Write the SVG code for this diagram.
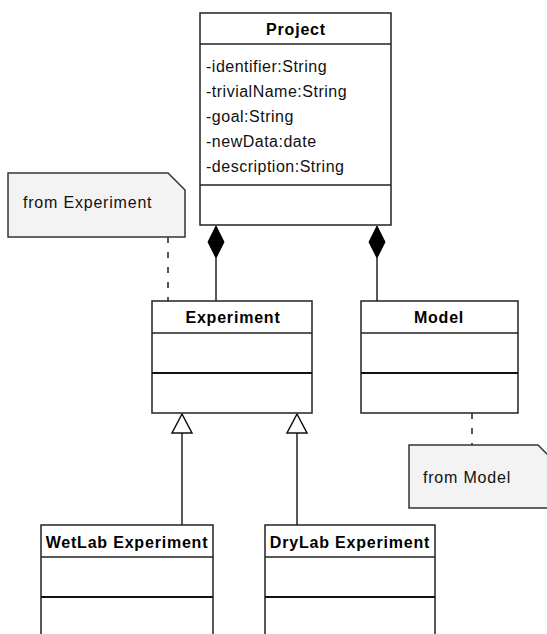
<svg xmlns="http://www.w3.org/2000/svg" width="547" height="634" viewBox="0 0 547 634">
  <style>
    .box { fill: #ffffff; stroke: #222222; stroke-width: 1.5; }
    .sep { stroke: #222222; stroke-width: 1.5; }
    .sep2 { stroke: #111111; stroke-width: 2.2; }
    .title { font-family: "Liberation Sans", Arial, sans-serif; font-size: 16px; font-weight: bold; letter-spacing: 0.8px; fill: #000; text-anchor: middle; }
    .attr { font-family: "Liberation Sans", Arial, sans-serif; font-size: 16px; letter-spacing: 0.5px; fill: #111; }
    .note { fill: #f3f3f3; stroke: #333333; stroke-width: 1.5; }
    .notetext { font-family: "Liberation Sans", Arial, sans-serif; font-size: 16px; letter-spacing: 0.8px; fill: #111; }
    .link { stroke: #222222; stroke-width: 1.5; fill: none; }
    .dash { stroke: #222222; stroke-width: 1.5; fill: none; stroke-dasharray: 6 9; }
    .diamond { fill: #000000; stroke: #000000; stroke-width: 1; }
    .tri { fill: #ffffff; stroke: #111111; stroke-width: 1.5; }
  </style>

  <!-- connectors -->
  <g id="connectors">
    <!-- composition: Project -> Experiment -->
    <line class="link" x1="216" y1="258" x2="216" y2="301"/>
    <polygon class="diamond" points="216,226 224,242 216,258 208,242"/>
    <!-- composition: Project -> Model -->
    <line class="link" x1="377" y1="258" x2="377" y2="301"/>
    <polygon class="diamond" points="377,226 385,242 377,258 369,242"/>
    <!-- generalization: WetLab -> Experiment -->
    <line class="link" x1="182" y1="433" x2="182" y2="525"/>
    <polygon class="tri" points="182,414 192,433 172,433"/>
    <!-- generalization: DryLab -> Experiment -->
    <line class="link" x1="297" y1="433" x2="297" y2="525"/>
    <polygon class="tri" points="297,414 307,433 287,433"/>
    <!-- note anchors -->
    <line class="dash" x1="168" y1="237" x2="168" y2="301"/>
    <line class="dash" x1="472" y1="413" x2="472" y2="445"/>
  </g>

  <!-- Project class -->
  <g id="project">
    <rect class="box" x="200" y="13" width="191" height="212"/>
    <line class="sep" x1="200" y1="44" x2="391" y2="44"/>
    <line class="sep" x1="200" y1="185" x2="391" y2="185"/>
    <text class="title" x="296" y="35">Project</text>
    <text class="attr" x="206" y="72">-identifier:String</text>
    <text class="attr" x="206" y="97">-trivialName:String</text>
    <text class="attr" x="206" y="122">-goal:String</text>
    <text class="attr" x="206" y="147">-newData:date</text>
    <text class="attr" x="206" y="172">-description:String</text>
  </g>

  <!-- note attached to Experiment -->
  <g id="note-experiment">
    <path class="note" d="M8,173 H168 L185,190 V237 H8 Z"/>
    <text class="notetext" x="23" y="208">from Experiment</text>
  </g>

  <!-- Experiment class -->
  <g id="experiment">
    <rect class="box" x="152" y="301" width="160" height="112"/>
    <line class="sep" x1="152" y1="333" x2="312" y2="333"/>
    <line class="sep2" x1="152" y1="373" x2="312" y2="373"/>
    <text class="title" x="233" y="323">Experiment</text>
  </g>

  <!-- Model class -->
  <g id="model">
    <rect class="box" x="361" y="301" width="157" height="112"/>
    <line class="sep" x1="361" y1="333" x2="518" y2="333"/>
    <line class="sep2" x1="361" y1="373" x2="518" y2="373"/>
    <text class="title" x="439" y="323">Model</text>
  </g>

  <!-- note attached to Model -->
  <g id="note-model">
    <path class="note" d="M409,445 H538 L555,462 V508 H409 Z"/>
    <text class="notetext" x="423" y="483">from Model</text>
  </g>

  <!-- WetLab Experiment class -->
  <g id="wetlab">
    <rect class="box" x="41" y="525" width="172" height="120"/>
    <line class="sep" x1="41" y1="557" x2="213" y2="557"/>
    <line class="sep2" x1="41" y1="597" x2="213" y2="597"/>
    <text class="title" x="127" y="548">WetLab Experiment</text>
  </g>

  <!-- DryLab Experiment class -->
  <g id="drylab">
    <rect class="box" x="265" y="525" width="170" height="120"/>
    <line class="sep" x1="265" y1="557" x2="435" y2="557"/>
    <line class="sep2" x1="265" y1="597" x2="435" y2="597"/>
    <text class="title" x="350" y="548">DryLab Experiment</text>
  </g>
</svg>
